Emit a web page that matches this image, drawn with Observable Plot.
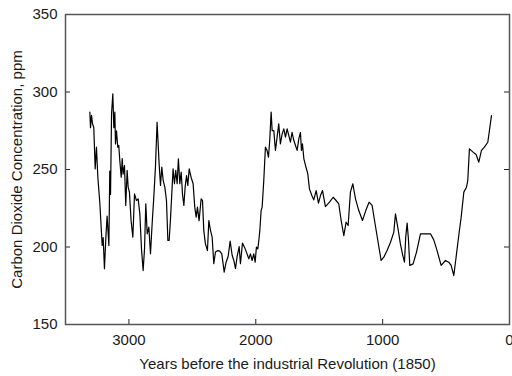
<!DOCTYPE html>
<html>
<head>
<meta charset="utf-8">
<script src="https://cdn.jsdelivr.net/npm/d3@7"></script>
<script src="https://cdn.jsdelivr.net/npm/@observablehq/plot@0.6"></script>
<style>
  html, body { margin: 0; padding: 0; background: #fff; }
  svg { display: block; }
</style>
</head>
<body>
<div id="chart"></div>
<script>
const years = [
  3308,3303,3295,3287,3277,3266,3256,3245,3229,3211,3203,3193,3182,3172,3158,3151,3145,3137,3127,3119,
  3111,3106,3098,3088,3080,3072,3061,3053,3046,3035,3025,3014,3006,2996,2983,2969,2956,2941,2927,2914,
  2901,2888,2877,2867,2856,2843,2830,2817,2804,2791,2778,2762,2751,2741,2730,2717,2704,2693,2683,2673,
  2662,2652,2641,2631,2620,2610,2599,2588,2578,2567,2557,2546,2536,2525,2510,2494,2481,2470,2460,2447,
  2431,2420,2410,2397,2381,2370,2357,2344,2331,2318,2299,2284,2268,2249,2234,2218,2202,2186,2173,2160,
  2147,2131,2121,2105,2089,2074,2055,2042,2029,2016,2005,1995,1984,1976,1968,1958,1950,1937,1924,1911,
  1900,1890,1879,1871,1858,1845,1832,1819,1806,1792,1779,1766,1753,1740,1727,1714,1700,1687,1674,1661,
  1648,1640,1632,1621,1608,1590,1577,1558,1543,1524,1506,1490,1474,1451,1419,1390,1367,1346,1327,1306,
  1288,1272,1254,1235,1214,1188,1159,1133,1107,1083,1064,1038,1012,991,965,938,912,899,881,860,
  841,828,818,807,797,786,760,733,702,662,623,597,571,539,505,479,460,439,421,400,
  381,360,339,329,316,287,263,242,221,198,171,142
];
const co2 = [
  287,277,285,279.5,277,250.4,264.4,245,227.9,201,206,186,206,220,201,249,234,286,298.8,277,
  287,266.5,275,264.4,265.5,255.8,245,257,247,252.6,226.8,249.4,238.6,235.4,217,206.4,234.3,230,231,221.4,
  198.8,184.8,198.8,227.9,208.5,212.8,195.6,215,232,251.5,280.5,253.6,239.7,251.5,243,238.6,230,204.2,204.2,217,
  234.3,250.4,240.8,249.4,240.8,256.9,240.8,248.3,234.3,226.8,238.6,246,239.7,250.4,245,240.8,225.7,219.3,225.7,217,
  231,230,210.7,202,197.7,217,210.7,206.4,189.2,196.7,197.7,197.3,195.6,183.8,190.2,193.9,203.8,194.5,191.3,186,
  193.9,200.3,189.2,202.5,199.9,196.7,192.4,195.6,191.3,195.6,190.2,199.9,198.8,204.2,210.7,223.5,225.7,242.9,264.4,262.3,
  257.9,268.7,287,275.1,275.1,262.3,270.9,279.4,266.5,273,276.2,270.9,276.2,272,267.6,274,268.7,265.5,262.3,269.8,
  274,262.3,266.5,256.9,252.6,247.2,237.5,233.2,230.4,236.4,228.3,233.2,236.4,226.1,228.9,232.1,230,227.9,217.1,207.4,
  216,213.9,235.4,240.8,231.1,223.5,217.1,223.5,228.9,226.8,217.1,204.2,191.3,193.4,197.7,203.1,209.6,221.4,212.8,202,
  194.5,190.2,206.4,215.4,205.3,188.1,189.1,196.7,208.5,208.5,208.5,204.6,197.7,188.1,191.3,190.2,188.1,181.6,193.4,207.4,
  219.2,235.4,238.6,242.9,263.3,261.2,259.7,254.7,262.3,264.4,267.6,284.8
];
const xTicks = [3000, 2000, 1000, 0];
const yTicks = [150, 200, 250, 300, 350];
const xLabel = "Years before the industrial Revolution (1850)";
const yLabel = "Carbon Dioxide Concentration, ppm";

const data = years.map((y, i) => ({year: y, ppm: co2[i]}));

const W = 512, H = 376, mL = 65, mR = 3, mT = 14, mB = 52;
const innerW = W - mL - mR, innerH = H - mT - mB;
const tickLen = 5;

const chart = Plot.plot({
  width: W,
  height: H,
  marginLeft: mL,
  marginRight: mR,
  marginTop: mT,
  marginBottom: mB,
  style: {fontFamily: "'Liberation Sans', Arial, sans-serif", fontSize: "15px", color: "#1a1a1a", background: "#fff"},
  x: {domain: [3500, 0]},
  y: {domain: [150, 350]},
  marks: [
    Plot.axisX({ticks: xTicks, tickSize: 0, tickPadding: 10, fontSize: 15, tickFormat: d => String(d),
      label: xLabel, labelAnchor: "center", labelOffset: 44, labelArrow: "none"}),
    Plot.axisY({ticks: yTicks, tickSize: 0, tickPadding: 8, fontSize: 15, tickFormat: d => String(d),
      label: yLabel, labelAnchor: "center", labelOffset: 54, labelArrow: "none"}),
    Plot.tickX(xTicks, {x: d => d, insetTop: innerH - tickLen, stroke: "#222"}),
    Plot.tickY(yTicks, {y: d => d, insetRight: innerW - tickLen, stroke: "#222"}),
    Plot.tickY(yTicks, {y: d => d, insetLeft: innerW - tickLen, stroke: "#222"}),
    Plot.frame({stroke: "#555", strokeWidth: 1.5}),
    Plot.line(data, {x: "year", y: "ppm", stroke: "#000", strokeWidth: 1.2})
  ]
});
document.getElementById("chart").appendChild(chart);
</script>
</body>
</html>
